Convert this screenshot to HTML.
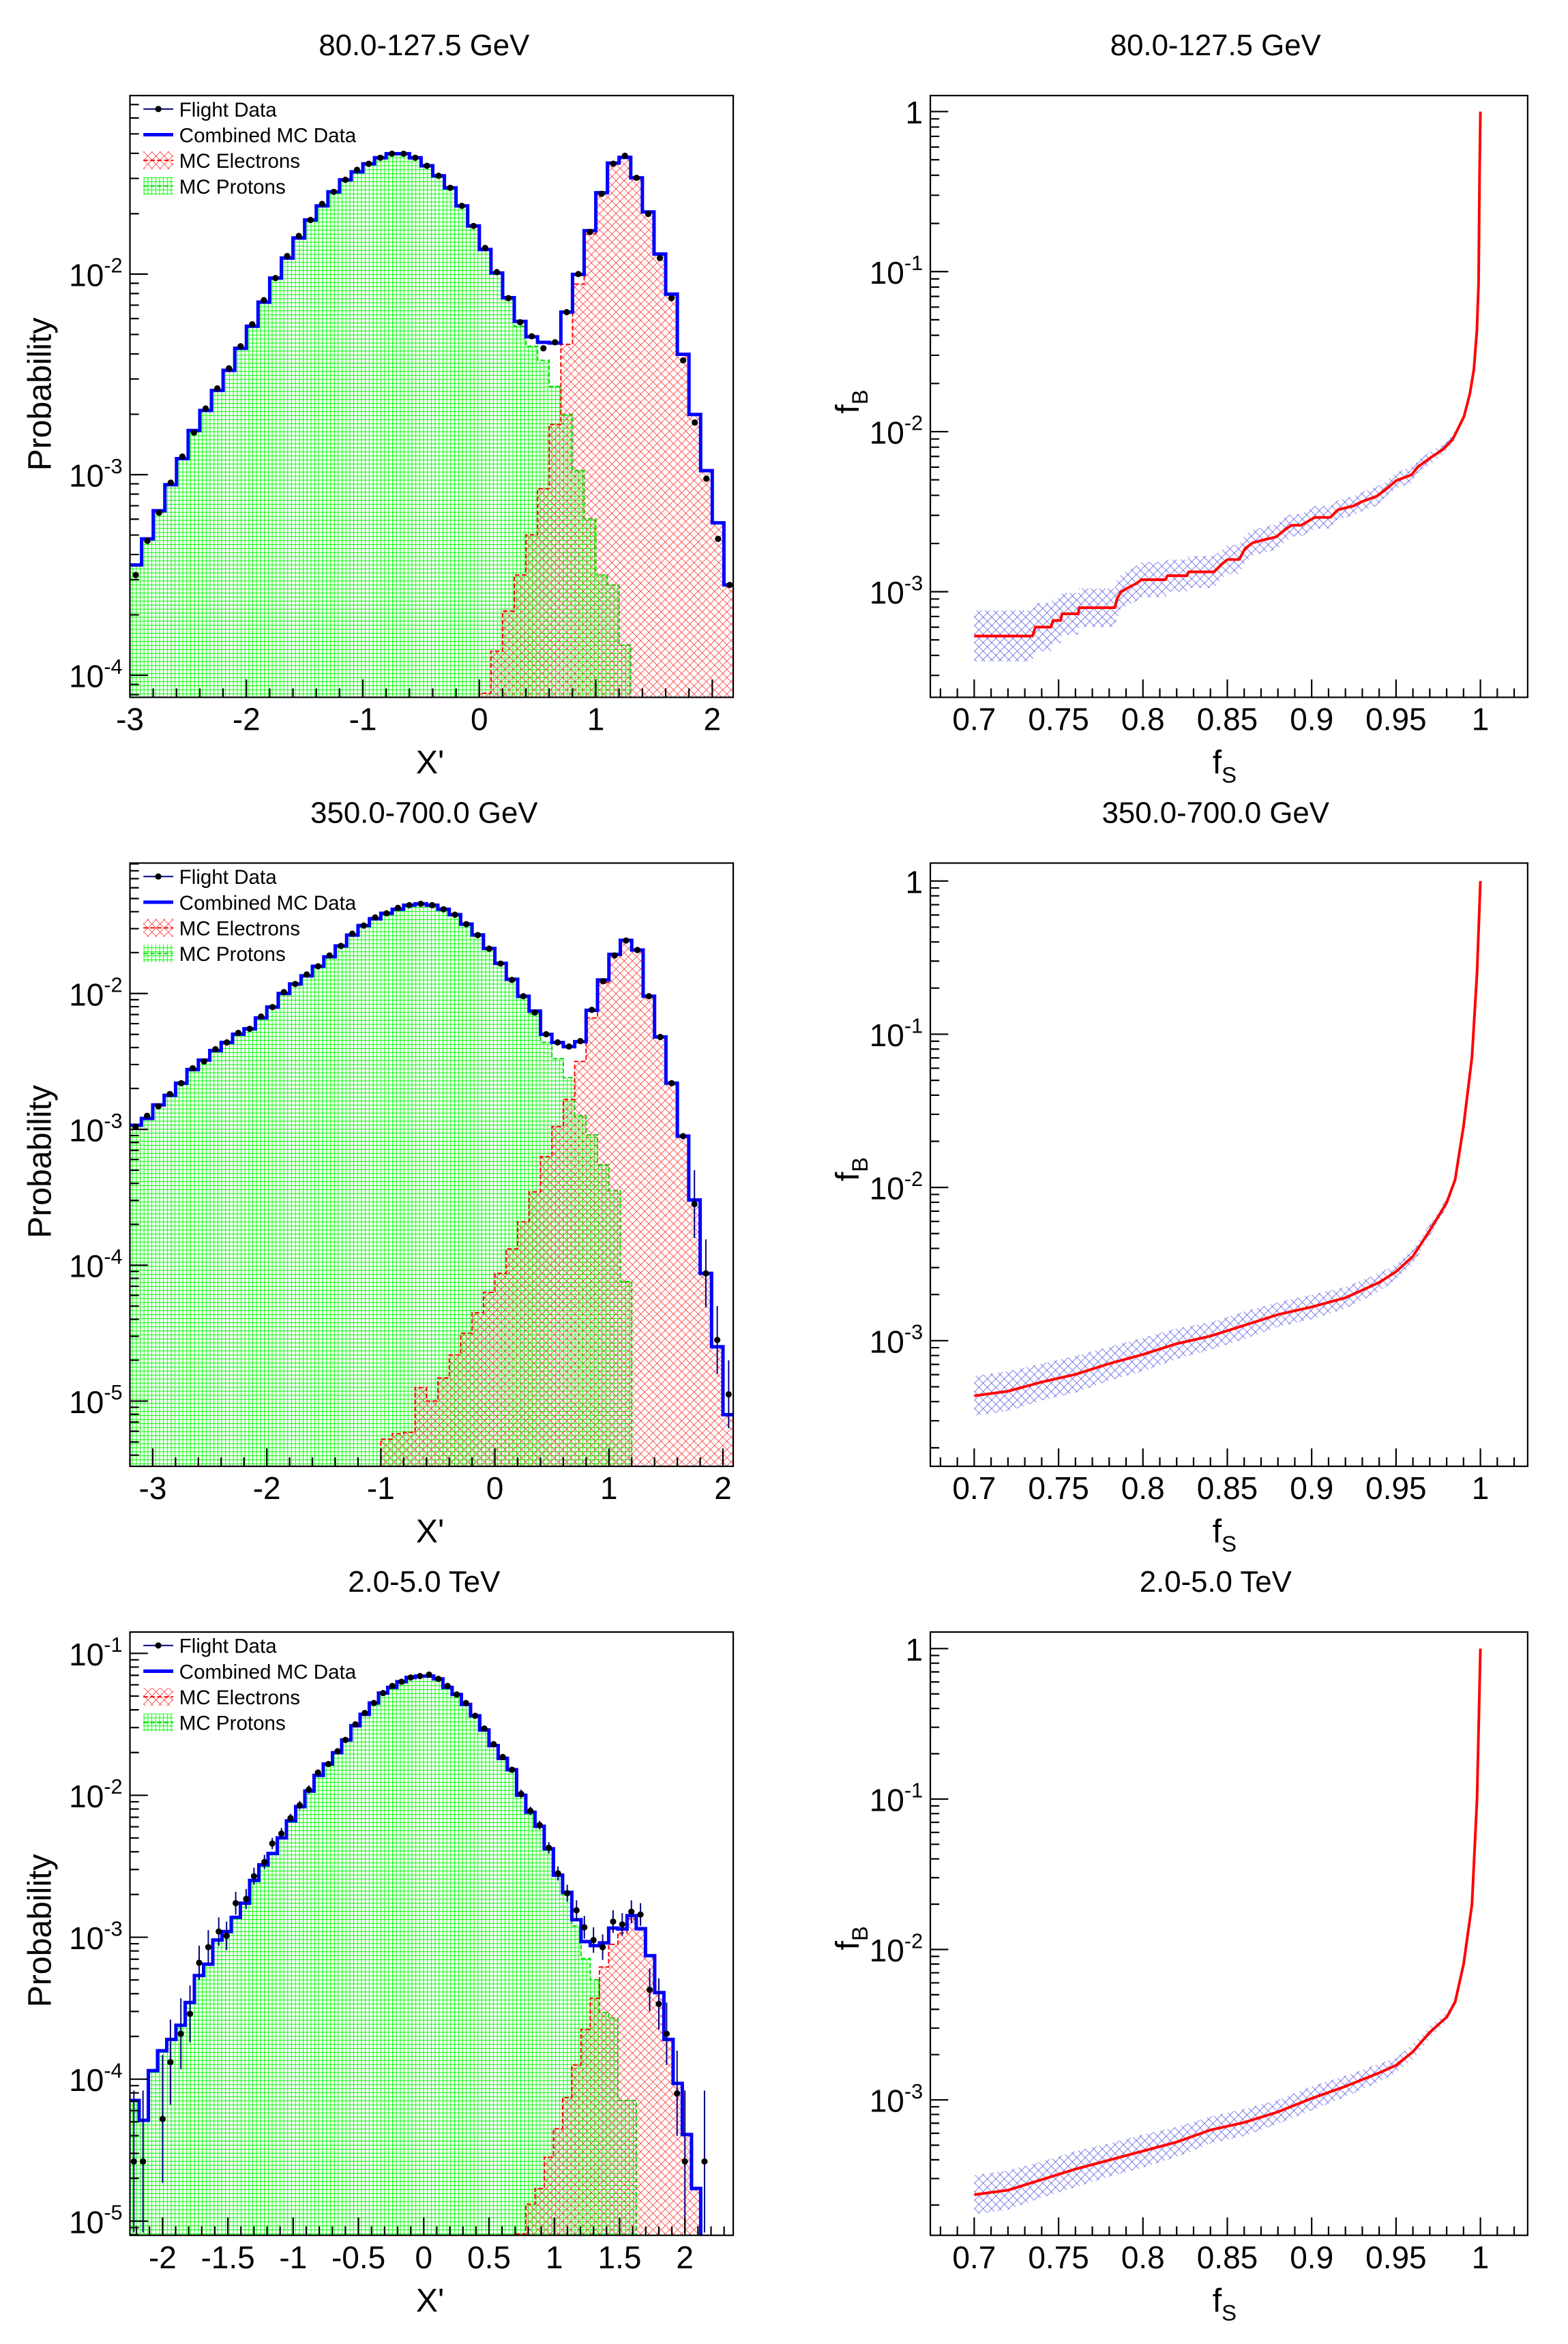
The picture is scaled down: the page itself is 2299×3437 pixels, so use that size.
<!DOCTYPE html>
<html><head><meta charset="utf-8"><title>X' distributions and fB vs fS</title>
<style>
html,body{margin:0;padding:0;background:#fff;}
svg{display:block;}
text{font-family:"Liberation Sans",Arial,sans-serif;fill:#000;}
</style></head>
<body>
<svg id="fig" width="2299" height="3437" viewBox="0 0 1050 1569.8">
<defs>
<pattern id="gp" patternUnits="userSpaceOnUse" width="2.6" height="2.7">
<line x1="0.25" y1="0" x2="0.25" y2="2.7" stroke="#00ff00" stroke-width="0.45"/>
<line x1="0" y1="0.25" x2="2.6" y2="0.25" stroke="#00ff00" stroke-width="0.45"/>
</pattern>
<pattern id="rp" patternUnits="userSpaceOnUse" width="5.5" height="5.5">
<path d="M0,0 L5.5,5.5 M5.5,0 L0,5.5" stroke="#ff2020" stroke-width="0.35" fill="none"/>
</pattern>
<pattern id="bp" patternUnits="userSpaceOnUse" width="5.7" height="5.7">
<path d="M0,0 L5.7,5.7 M5.7,0 L0,5.7" stroke="#4040e0" stroke-width="0.3" fill="none"/>
</pattern>
<clipPath id="cL1"><rect x="87" y="64" width="404" height="403"/></clipPath>
<clipPath id="cL2"><rect x="87" y="578" width="404" height="404"/></clipPath>
<clipPath id="cL3"><rect x="87" y="1093" width="404" height="404"/></clipPath>
<clipPath id="cR1"><rect x="623" y="64" width="400" height="403"/></clipPath>
<clipPath id="cR2"><rect x="623" y="578" width="400" height="404"/></clipPath>
<clipPath id="cR3"><rect x="623" y="1093" width="400" height="404"/></clipPath>
</defs>
</svg>
<script>
// ---------- Data (log10 of probability) ----------
const r1Lo = -3.0, r1W = 0.1;
const r1Protons = [-3.45,-3.32,-3.18,-3.05,-2.92,-2.78,-2.68,-2.58,-2.48,-2.37,-2.26,-2.14,-2.02,-1.92,-1.82,-1.73,-1.66,-1.59,-1.53,-1.49,-1.45,-1.42,-1.40,-1.40,-1.42,-1.46,-1.51,-1.57,-1.66,-1.76,-1.88,-2.00,-2.13,-2.26,-2.36,-2.43,-2.56,-2.70,-2.98,-3.22,-3.50,-3.55,-3.85,-9,-9,-9,-9,-9,-9,-9,-9,-9];
const r1Electrons = [-9,-9,-9,-9,-9,-9,-9,-9,-9,-9,-9,-9,-9,-9,-9,-9,-9,-9,-9,-9,-9,-9,-9,-9,-9,-9,-9,-9,-9,-9,-4.09,-3.88,-3.68,-3.50,-3.30,-3.07,-2.75,-2.35,-2.05,-1.80,-1.60,-1.45,-1.42,-1.52,-1.69,-1.90,-2.10,-2.40,-2.70,-2.98,-3.24,-3.55];
const r1Flight = [-3.50,-3.33,-3.19,-3.04,-2.91,-2.79,-2.67,-2.57,-2.47,-2.36,-2.25,-2.13,-2.02,-1.91,-1.81,-1.73,-1.65,-1.59,-1.53,-1.48,-1.45,-1.42,-1.40,-1.40,-1.42,-1.46,-1.51,-1.57,-1.66,-1.76,-1.87,-1.99,-2.12,-2.24,-2.31,-2.37,-2.34,-2.19,-2.00,-1.79,-1.60,-1.45,-1.41,-1.52,-1.70,-1.92,-2.12,-2.43,-2.74,-3.02,-3.32,-3.55];
const r2Lo = -3.2, r2W = 0.1;
const r2Protons = [-2.97,-2.92,-2.82,-2.75,-2.66,-2.56,-2.49,-2.42,-2.36,-2.30,-2.26,-2.18,-2.10,-2.00,-1.93,-1.87,-1.80,-1.73,-1.65,-1.57,-1.50,-1.45,-1.41,-1.38,-1.35,-1.34,-1.35,-1.38,-1.42,-1.49,-1.57,-1.67,-1.78,-1.90,-2.03,-2.15,-2.36,-2.48,-2.62,-2.90,-3.04,-3.26,-3.45,-4.12,-9,-9,-9,-9,-9,-9,-9,-9,-9];
const r2Electrons = [-9,-9,-9,-9,-9,-9,-9,-9,-9,-9,-9,-9,-9,-9,-9,-9,-9,-9,-9,-9,-9,-9,-5.28,-5.24,-5.23,-4.90,-5.00,-4.83,-4.66,-4.50,-4.35,-4.20,-4.06,-3.88,-3.68,-3.46,-3.20,-2.98,-2.78,-2.50,-2.18,-1.92,-1.72,-1.61,-1.68,-2.02,-2.32,-2.66,-3.05,-3.52,-4.06,-4.60,-5.10];
const r2Flight = [-2.98,-2.90,-2.83,-2.74,-2.66,-2.55,-2.50,-2.41,-2.36,-2.29,-2.26,-2.17,-2.10,-1.99,-1.93,-1.86,-1.80,-1.72,-1.65,-1.56,-1.50,-1.44,-1.41,-1.37,-1.35,-1.34,-1.35,-1.38,-1.42,-1.49,-1.57,-1.67,-1.78,-1.90,-2.02,-2.14,-2.30,-2.36,-2.39,-2.35,-2.12,-1.91,-1.72,-1.61,-1.68,-2.02,-2.32,-2.66,-3.05,-3.55,-4.06,-4.55,-4.95];
const r3Lo = -2.25, r3W = 0.0705;
const r3Protons = [-4.15,-4.29,-3.94,-3.80,-3.72,-3.62,-3.46,-3.27,-3.19,-3.02,-2.96,-2.86,-2.76,-2.60,-2.49,-2.41,-2.30,-2.18,-2.08,-1.97,-1.86,-1.78,-1.70,-1.61,-1.51,-1.43,-1.35,-1.28,-1.24,-1.20,-1.17,-1.16,-1.16,-1.18,-1.24,-1.29,-1.36,-1.44,-1.54,-1.65,-1.74,-1.82,-2.00,-2.12,-2.22,-2.38,-2.57,-2.70,-2.92,-3.15,-3.30,-3.53,-3.57,-4.15,-4.15,-9,-9,-9,-9,-9,-9,-9,-9,-9,-9,-9];
const r3Electrons = [-9,-9,-9,-9,-9,-9,-9,-9,-9,-9,-9,-9,-9,-9,-9,-9,-9,-9,-9,-9,-9,-9,-9,-9,-9,-9,-9,-9,-9,-9,-9,-9,-9,-9,-9,-9,-9,-9,-9,-9,-9,-9,-5.09,-4.88,-4.77,-4.55,-4.35,-4.13,-3.90,-3.65,-3.43,-3.21,-3.05,-2.97,-2.87,-2.94,-3.13,-3.39,-3.72,-4.03,-4.39,-4.77,-9,-9,-9,-9];
const r3FlightX = [-2.22,-2.15,-2.00,-1.94,-1.86,-1.79,-1.72,-1.65,-1.57,-1.51,-1.44,-1.36,-1.30,-1.22,-1.16,-1.09,-1.02,-0.95,-0.88,-0.81,-0.73,-0.66,-0.60,-0.523,-0.452,-0.382,-0.311,-0.241,-0.170,-0.100,-0.029,0.041,0.112,0.182,0.253,0.323,0.394,0.464,0.535,0.605,0.676,0.746,0.817,0.887,0.958,1.028,1.099,1.17,1.23,1.30,1.37,1.45,1.52,1.59,1.66,1.73,1.80,1.86,1.94,2.00,2.15];
const r3FlightY = [-4.58,-4.58,-4.28,-3.88,-3.68,-3.54,-3.18,-3.07,-2.96,-2.99,-2.76,-2.73,-2.57,-2.47,-2.34,-2.27,-2.16,-2.07,-1.96,-1.84,-1.78,-1.69,-1.61,-1.50,-1.42,-1.35,-1.28,-1.23,-1.20,-1.17,-1.16,-1.15,-1.18,-1.23,-1.29,-1.35,-1.44,-1.53,-1.64,-1.73,-1.82,-1.99,-2.11,-2.21,-2.37,-2.55,-2.69,-2.81,-2.93,-3.02,-3.07,-2.89,-2.91,-2.82,-2.84,-3.37,-3.47,-3.68,-4.10,-4.58,-4.58];
const r3FlightErr = [0.5,0.5,0.45,0.3,0.25,0.2,0.12,0.12,0.1,0.1,0.08,0.07,0.06,0.05,0.04,0.04,0.03,0.03,0.03,0.02,0.02,0.02,0.02,0.02,0.02,0.02,0.02,0.02,0.02,0.02,0.02,0.02,0.02,0.02,0.02,0.02,0.02,0.02,0.02,0.02,0.02,0.03,0.03,0.03,0.04,0.05,0.06,0.07,0.08,0.09,0.09,0.08,0.08,0.08,0.08,0.15,0.18,0.22,0.3,0.5,0.5];

const roc1S = [0.7000,0.7345,0.7363,0.7455,0.7467,0.7513,0.7520,0.7616,0.7623,0.7834,0.7846,0.7869,0.7915,0.7961,0.7991,0.8133,0.8145,0.8260,0.8271,0.8421,0.8467,0.8501,0.8570,0.8605,0.8651,0.8720,0.8789,0.8846,0.8880,0.8938,0.9018,0.9110,0.9156,0.9248,0.9294,0.9386,0.9432,0.9501,0.9593,0.9628,0.9708,0.9777,0.9834,0.9869,0.9903,0.9938,0.9961,0.9979,0.9989,0.9995,1.0];
const roc1B = [-3.277,-3.277,-3.221,-3.221,-3.180,-3.180,-3.138,-3.138,-3.100,-3.100,-3.046,-3.002,-2.973,-2.949,-2.925,-2.925,-2.900,-2.900,-2.876,-2.876,-2.828,-2.799,-2.799,-2.731,-2.694,-2.675,-2.658,-2.609,-2.585,-2.585,-2.536,-2.536,-2.488,-2.464,-2.439,-2.403,-2.367,-2.306,-2.269,-2.221,-2.160,-2.112,-2.051,-1.978,-1.905,-1.76,-1.614,-1.371,-1.080,-0.40,0];
const roc1E = [0.16,0.16,0.15,0.15,0.14,0.14,0.13,0.13,0.12,0.12,0.12,0.11,0.11,0.11,0.11,0.11,0.10,0.10,0.10,0.10,0.09,0.09,0.09,0.09,0.08,0.08,0.08,0.08,0.07,0.07,0.07,0.07,0.06,0.06,0.06,0.06,0.05,0.05,0.05,0.04,0.04,0.03,0.03,0.02,0.02,0.01,0.01,0.01,0.0,0.0,0.0];
const roc2S = [0.70,0.72,0.74,0.76,0.78,0.80,0.82,0.84,0.86,0.88,0.90,0.92,0.94,0.95,0.96,0.97,0.98,0.985,0.99,0.995,0.998,1.0];
const roc2B = [-3.36,-3.33,-3.27,-3.22,-3.15,-3.09,-3.02,-2.97,-2.90,-2.83,-2.78,-2.72,-2.62,-2.55,-2.45,-2.28,-2.10,-1.95,-1.60,-1.15,-0.60,0];
const roc2E = [0.13,0.13,0.12,0.12,0.11,0.11,0.10,0.09,0.09,0.08,0.08,0.07,0.06,0.05,0.05,0.04,0.03,0.02,0.01,0.0,0.0,0.0];
const roc3S = [0.70,0.72,0.74,0.76,0.78,0.80,0.82,0.84,0.86,0.88,0.90,0.92,0.94,0.95,0.96,0.97,0.98,0.985,0.99,0.995,0.998,1.0];
const roc3B = [-3.63,-3.60,-3.53,-3.46,-3.40,-3.34,-3.28,-3.20,-3.15,-3.08,-2.99,-2.91,-2.82,-2.77,-2.68,-2.55,-2.45,-2.35,-2.10,-1.70,-1.00,0];
const roc3E = [0.13,0.13,0.12,0.12,0.11,0.11,0.10,0.09,0.09,0.08,0.08,0.07,0.06,0.05,0.05,0.04,0.03,0.02,0.01,0.0,0.0,0.0];

const titles = ["80.0-127.5 GeV","350.0-700.0 GeV","2.0-5.0 TeV"];
const xTicks12 = [-3,-2,-1,0,1,2];
const xTicks3 = [-2,-1.5,-1,-0.5,0,0.5,1,1.5,2];
const xTicksR = [0.7,0.75,0.8,0.85,0.9,0.95,1];

const svg = document.getElementById('fig');
const NS = svg.namespaceURI;
function mk(tag, attrs, parent){
  const e = document.createElementNS(NS, tag);
  for (const k in attrs) e.setAttribute(k, attrs[k]);
  (parent || svg).appendChild(e);
  return e;
}
function px(p,x){return p.x0+(x-p.xmin)/(p.xmax-p.xmin)*(p.x1-p.x0);}
function py(p,l){return p.y1-(l-p.lmin)/(p.lmax-p.lmin)*(p.y1-p.y0);}

const panels = {
  L1:{x0:87,y0:64,x1:491,y1:467,xmin:-3,xmax:2.18,lmin:-4.11,lmax:-1.11,clip:'cL1'},
  L2:{x0:87,y0:578,x1:491,y1:982,xmin:-3.2,xmax:2.09,lmin:-5.48,lmax:-1.04,clip:'cL2'},
  L3:{x0:87,y0:1093,x1:491,y1:1497,xmin:-2.25,xmax:2.37,lmin:-5.1,lmax:-0.85,clip:'cL3'},
  R1:{x0:623,y0:64,x1:1023,y1:467,xmin:0.674,xmax:1.028,lmin:-3.66,lmax:0.1,clip:'cR1'},
  R2:{x0:623,y0:578,x1:1023,y1:982,xmin:0.674,xmax:1.028,lmin:-3.82,lmax:0.117,clip:'cR2'},
  R3:{x0:623,y0:1093,x1:1023,y1:1497,xmin:0.674,xmax:1.028,lmin:-3.9,lmax:0.11,clip:'cR3'}
};

function histFill(p, g, lo, w, vals, pat, stroke, name){
  let d = '';
  let started = false;
  for (let i=0;i<vals.length;i++){
    const xa = px(p, lo+i*w), xb = px(p, lo+(i+1)*w);
    if (vals[i] > -8){
      const y = py(p, vals[i]);
      const r = mk('rect',{x:xa,y:y,width:xb-xa,height:Math.max(0,p.y1-y),fill:pat},g);
      
      
      if(!started){d += 'M'+xa+','+p.y1; started=true;}
      d += ' L'+xa+','+y+' L'+xb+','+y;
    } else if (started){
      d += ' L'+xa+','+p.y1; started=false;
    }
  }
  if (started) d += ' L'+px(p,lo+vals.length*w)+','+p.y1;
  const o = mk('path',{d:d,fill:'none',stroke:stroke,'stroke-width':0.9,'stroke-dasharray':'3,1.6'},g);
  
  
}

function combined(p, g, lo, w, a, b){
  let d = '';
  for (let i=0;i<a.length;i++){
    const s = (a[i]>-8?Math.pow(10,a[i]):0)+(b[i]>-8?Math.pow(10,b[i]):0);
    const l = s>0?Math.log10(s):p.lmin-1;
    const y = Math.min(p.y1+2, py(p,l));
    const xa = px(p, lo+i*w), xb = px(p, lo+(i+1)*w);
    d += (i===0?'M':' L')+xa+','+y+' L'+xb+','+y;
  }
  const c = mk('path',{d:d,fill:'none',stroke:'#0000ff','stroke-width':2.3},g);
  
  
}

function dots(p, g, xs, ys, errs){
  for (let i=0;i<xs.length;i++){
    if (ys[i] < p.lmin) continue;
    const cx = px(p,xs[i]), cy = py(p,ys[i]);
    if (errs && errs[i]>0){
      const eb = mk('line',{x1:cx,x2:cx,y1:py(p,ys[i]+errs[i]),y2:Math.min(p.y1,py(p,ys[i]-errs[i])),stroke:'#000080','stroke-width':0.9},g);
      
      
    }
    const c = mk('circle',{cx:cx,cy:cy,r:2.1,fill:'#000'},g);
    
    
  }
}

function logLabel(p, x, y, d, g){
  const t = mk('text',{x:x,y:y,'text-anchor':'end','font-size':21},g);
  
  
  if (d===0){ t.textContent='1'; return; }
  const a = mk('tspan',{},t); a.textContent='10';
  const b = mk('tspan',{dy:-9,'font-size':14}, t); b.textContent=String(d);
}

function axes(p, g, xMajor, xMinorStep, xLabels, fmt){
  const f = mk('rect',{x:p.x0,y:p.y0,width:p.x1-p.x0,height:p.y1-p.y0,fill:'none',stroke:'#000','stroke-width':1},g);
  
  
  let d='';
  for (let dec=Math.floor(p.lmin); dec<=Math.ceil(p.lmax); dec++){
    for (let m=1;m<=9;m++){
      const l = dec+Math.log10(m);
      if (l<p.lmin||l>p.lmax) continue;
      const y = py(p,l);
      d += 'M'+p.x0+','+y+' h'+(m===1?12:6)+' ';
      if (m===1) logLabel(p, p.x0-5, y+8, dec, g);
    }
  }
  const start = Math.ceil((p.xmin-1e-9)/xMinorStep);
  for (let k=start; k*xMinorStep<=p.xmax+1e-9; k++){
    const v = k*xMinorStep;
    const major = xMajor.some(m=>Math.abs(m-v)<1e-6);
    const x = px(p,v);
    d += 'M'+x+','+p.y1+' v-'+(major?12:6)+' ';
  }
  const tk = mk('path',{d:d,stroke:'#000','stroke-width':1,fill:'none'},g);
  
  
  xLabels.forEach(v=>{
    const t = mk('text',{x:px(p,v),y:p.y1+22,'text-anchor':'middle','font-size':21},g);
    
    
    t.textContent = fmt(v);
  });
}

function legend(p, g){
  const y0 = p.y0+9, dy = 17.2, tx = 120;
  const items = ['Flight Data','Combined MC Data','MC Electrons','MC Protons'];
  let m = mk('line',{x1:96,x2:116,y1:y0,y2:y0,stroke:'#000080','stroke-width':0.9},g);
   
  m = mk('circle',{cx:106,cy:y0,r:2.1,fill:'#000'},g);
   
  m = mk('line',{x1:96,x2:116,y1:y0+dy,y2:y0+dy,stroke:'#0000ff','stroke-width':2.3},g);
   
  m = mk('rect',{x:96,y:y0+2*dy-6,width:20,height:12,fill:'url(#rp)'},g);
   
  m = mk('line',{x1:96,x2:116,y1:y0+2*dy,y2:y0+2*dy,stroke:'#ff0000','stroke-width':0.9,'stroke-dasharray':'3,1.6'},g);
   
  m = mk('rect',{x:96,y:y0+3*dy-6,width:20,height:12,fill:'url(#gp)'},g);
   
  m = mk('line',{x1:96,x2:116,y1:y0+3*dy,y2:y0+3*dy,stroke:'#00dd00','stroke-width':0.9,'stroke-dasharray':'3,1.6'},g);
   
  items.forEach((s,i)=>{
    const t = mk('text',{x:tx,y:y0+i*dy+5,'font-size':13.5},g);
    
    
    t.textContent = s;
  });
}

function xtitle(x,y,g){
  const t = mk('text',{x:x,y:y,'text-anchor':'middle','font-size':22},g);
  
  
  t.textContent = "X'";
}
function ytitle(x,y,g){
  const t = mk('text',{x:x,y:y,'text-anchor':'middle','font-size':22,transform:'rotate(-90 '+x+' '+y+')'},g);
  
  
  t.textContent = 'Probability';
}
function fsTitle(x,y,g){
  const t = mk('text',{x:x,y:y,'text-anchor':'middle','font-size':22},g);
  
  
  const a = mk('tspan',{},t); a.textContent='f';
  const b = mk('tspan',{dy:6,'font-size':15},t); b.textContent='S';
}
function fbTitle(x,y,g){
  const t = mk('text',{x:x,y:y,'text-anchor':'middle','font-size':22,transform:'rotate(-90 '+x+' '+y+')'},g);
  
  
  const a = mk('tspan',{},t); a.textContent='f';
  const b = mk('tspan',{dy:6,'font-size':15},t); b.textContent='B';
}
function title(x,y,s,g){
  const t = mk('text',{x:x,y:y,'text-anchor':'middle','font-size':20},g);
  
  
  t.textContent = s;
}

function histPanel(key, lo, w, prot, elec, fx, fy, ferr, xMajor, xMinor, xLabels, fmt, ttl, name){
  const p = panels[key];
  const g = mk('g',{});
  
  
  const cg = mk('g',{'clip-path':'url(#'+p.clip+')'},g);
  
  
  histFill(p, cg, lo, w, prot, 'url(#gp)', '#00dd00', 'mc-protons');
  histFill(p, cg, lo, w, elec, 'url(#rp)', '#ff0000', 'mc-electrons');
  combined(p, cg, lo, w, prot, elec);
  dots(p, cg, fx, fy, ferr);
  axes(p, g, xMajor, xMinor, xLabels, fmt);
  legend(p, g);
  title((p.x0+p.x1)/2-5, p.y0-27, ttl, g);
  xtitle(288, p.y1+51, g);
  ytitle(34, p.y0+200, g);
}

function rocPanel(key, S, B, E, ttl, name){
  const p = panels[key];
  const g = mk('g',{});
  
  
  const cg = mk('g',{'clip-path':'url(#'+p.clip+')'},g);
  
  
  let up='', dn='';
  for (let i=0;i<S.length;i++){
    up += (i===0?'M':' L')+px(p,S[i])+','+py(p,B[i]+E[i]);
  }
  for (let i=S.length-1;i>=0;i--){
    dn += ' L'+px(p,S[i])+','+py(p,B[i]-E[i]);
  }
  const band = mk('path',{d:up+dn+' Z',fill:'url(#bp)',stroke:'none'},cg);
  
  
  let d='';
  for (let i=0;i<S.length;i++){
    d += (i===0?'M':' L')+px(p,S[i])+','+py(p,B[i]);
  }
  const line = mk('path',{d:d,fill:'none',stroke:'#ff0000','stroke-width':1.8,'stroke-linejoin':'round'},cg);
  
  
  axes(p, g, xTicksR, 0.01, xTicksR, v=>String(v));
  title((p.x0+p.x1)/2-9, p.y0-27, ttl, g);
  fsTitle(820, p.y1+51, g);
  fbTitle(575, p.y0+205, g);
}

function centers(lo,w,n){const a=[];for(let i=0;i<n;i++)a.push(lo+(i+0.5)*w);return a;}
const intFmt = v=>String(v);

histPanel('L1', r1Lo, r1W, r1Protons, r1Electrons, centers(r1Lo,r1W,r1Flight.length), r1Flight, null,
  xTicks12, 0.2, xTicks12, intFmt, titles[0], 'xprime-panel-low-energy');
histPanel('L2', r2Lo, r2W, r2Protons, r2Electrons, centers(r2Lo,r2W,r2Flight.length), r2Flight,
  r2Flight.map(v=> v<-3.5 ? 0.25 : 0),
  xTicks12, 0.2, xTicks12, intFmt, titles[1], 'xprime-panel-mid-energy');
histPanel('L3', r3Lo, r3W, r3Protons, r3Electrons, r3FlightX, r3FlightY, r3FlightErr,
  xTicks3, 0.1, xTicks3, intFmt, titles[2], 'xprime-panel-high-energy');
rocPanel('R1', roc1S, roc1B, roc1E, titles[0], 'roc-panel-low-energy');
rocPanel('R2', roc2S, roc2B, roc2E, titles[1], 'roc-panel-mid-energy');
rocPanel('R3', roc3S, roc3B, roc3E, titles[2], 'roc-panel-high-energy');
</script>
</body></html>
